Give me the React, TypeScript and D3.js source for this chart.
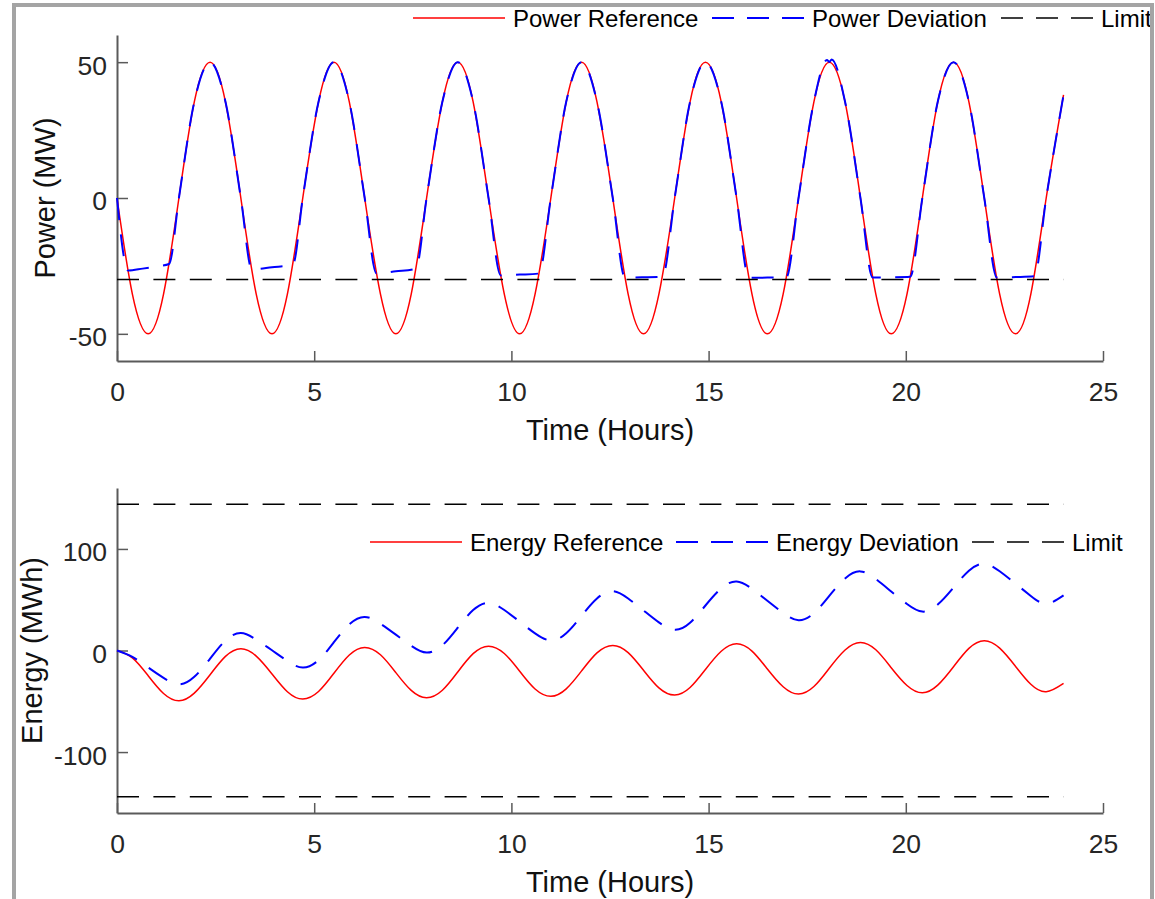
import React, { useEffect, useRef } from "react";
import * as d3 from "d3";

// sample times (hours), one every eighth of a cycle
const hours = [0, 0.39, 0.79, 1.18, 1.57, 1.96, 2.36, 2.75, 3.14, 3.53, 3.93, 4.32, 4.71, 5.11, 5.5, 5.89,
  6.28, 6.68, 7.07, 7.46, 7.85, 8.25, 8.64, 9.03, 9.42, 9.82, 10.21, 10.6, 11.0, 11.39, 11.78, 12.17,
  12.57, 12.96, 13.35, 13.74, 14.14, 14.53, 14.92, 15.32, 15.71, 16.1, 16.49, 16.89, 17.28, 17.67, 18.06, 18.46,
  18.85, 19.24, 19.63, 20.03, 20.42, 20.81, 21.21, 21.6, 21.99, 22.38, 22.78, 23.17, 23.56, 24.0];

const powerReference = [0, -35.4, -50, -35.4, 0, 35.4, 50, 35.4, 0, -35.4, -50, -35.4, 0, 35.4, 50, 35.4,
  0, -35.4, -50, -35.4, 0, 35.4, 50, 35.4, 0, -35.4, -50, -35.4, 0, 35.4, 50, 35.4,
  0, -35.4, -50, -35.4, 0, 35.4, 50, 35.4, 0, -35.4, -50, -35.4, 0, 35.4, 50, 35.4,
  0, -35.4, -50, -35.4, 0, 35.4, 50, 35.4, 0, -35.4, -50, -35.4, 0, 38];

const deviationHours = [0, 0.28, 0.65, 1.0, 1.32, 1.57, 1.96, 2.36, 2.75, 3.14, 3.42, 3.93, 4.46, 4.71, 5.11, 5.5,
  5.89, 6.28, 6.58, 7.07, 7.58, 7.85, 8.25, 8.64, 9.03, 9.42, 9.73, 10.21, 10.7, 11.0, 11.39, 11.78,
  12.17, 12.57, 12.88, 13.35, 13.83, 14.14, 14.53, 14.92, 15.32, 15.71, 16.02, 16.49, 16.97, 17.28, 17.67, 18.0,
  18.06, 18.12, 18.46, 18.85, 19.16, 19.63, 20.11, 20.42, 20.81, 21.21, 21.6, 21.99, 22.31, 22.78, 23.26, 23.56, 24.0];

const powerDeviation = [0, -26.7, -26.0, -25.2, -24.3, 0, 35.4, 50, 35.4, 0, -26.3, -25.5, -24.5, 0, 35.4, 50,
  35.4, 0, -27.8, -27.0, -26.0, 0, 35.4, 50, 35.4, 0, -28.5, -28.2, -27.8, 0, 35.4, 50,
  35.4, 0, -29.3, -29.2, -29.0, 0, 35.4, 50, 35.4, 0, -29.4, -29.3, -29.2, 0, 35.4, 50.8,
  50.1, 51.0, 35.4, 0, -29.3, -29.2, -29.0, 0, 35.4, 50, 35.4, 0, -29.3, -29.1, -28.8, 0, 38];

const energyReference = [0, -7.2, -24.8, -42.3, -49.5, -42.0, -23.9, -5.8, 1.7,
  -5.5, -23.1, -40.6, -47.8, -40.4, -22.4, -4.4, 3.0,
  -4.2, -21.8, -39.3, -46.5, -39.1, -21.1, -3.1, 4.3,
  -2.9, -20.4, -37.9, -45.1, -37.8, -20.1, -2.3, 5.0,
  -2.1, -19.5, -36.8, -43.9, -36.5, -18.7, -0.8, 6.6,
  -0.6, -18.2, -35.7, -42.9, -35.5, -17.5, 0.5, 7.9,
  0.7, -16.9, -34.4, -41.6, -34.1, -16.0, 2.1, 9.6,
  2.3, -15.5, -33.3, -40.6, -32.3];

const energyDeviation = [0, -6.3, -16.7, -27.0, -33.3, -25.9, -8.1, 9.8, 17.2,
  10.7, 0.2, -10.3, -16.8, -9.5, 8.2, 25.8, 33.1,
  26.4, 15.6, 4.7, -2.0, 5.1, 22.5, 39.8, 46.9,
  39.9, 28.4, 16.9, 9.9, 17.0, 34.2, 51.3, 58.4,
  51.2, 39.5, 27.7, 20.5, 27.4, 44.3, 61.1, 68.0,
  60.7, 48.9, 37.0, 29.7, 36.7, 53.8, 70.9, 77.9,
  70.4, 58.1, 45.8, 38.3, 45.2, 61.9, 78.6, 85.5,
  78.0, 65.9, 53.7, 46.2, 54.2];

const powerLimits = [-30];
const energyLimits = [144, -144];
const limitHours = [0, 24];

const xTicks = [0, 5, 10, 15, 20, 25];
const powerTicks = [-50, 0, 50];
const energyTicks = [-100, 0, 100];

const powerLegend = ["Power Reference", "Power Deviation", "Limit"];
const energyLegend = ["Energy Reference", "Energy Deviation", "Limit"];

const W = 1155;
const H = 899;
const FONT = "'Liberation Sans', Arial, Helvetica, sans-serif";
const DASH = "22 14.4";

export default function App() {
  const ref = useRef<SVGSVGElement>(null);

  useEffect(() => {
    const svg = d3.select(ref.current).html("");
    svg.append("rect").attr("width", W).attr("height", H).attr("fill", "#fff");

    const x = d3.scaleLinear().domain([0, 25]).range([117, 1103]);

    const styles = [
      { color: "#ff0000", dash: null, width: 1.5 },
      { color: "#0000ff", dash: DASH, width: 2 },
      { color: "#000000", dash: DASH, width: 1.5 },
    ];

    // plain hyphen for negatives, like the original
    const fmt = (d: any) => String(d);

    function panel(cfg: any) {
      const y = d3.scaleLinear().domain(cfg.domain).range(cfg.range);
      const g = svg.append("g");
      const top = cfg.range[1], bottom = cfg.range[0];

      // axes, ticks pointing inward
      const ax = g.append("g")
        .attr("transform", `translate(0,${bottom})`)
        .call(d3.axisBottom(x).tickValues(xTicks).tickFormat(fmt).tickSize(-10).tickSizeOuter(0).tickPadding(21));
      const ay = g.append("g")
        .attr("transform", `translate(117,0)`)
        .call(d3.axisLeft(y).tickValues(cfg.ticks).tickFormat(fmt).tickSize(-11).tickSizeOuter(0).tickPadding(10));
      [ax, ay].forEach(a => {
        a.select(".domain").attr("stroke", "#5a5a5a").attr("stroke-width", 2);
        a.selectAll(".tick line").attr("stroke", "#5a5a5a").attr("stroke-width", 1.5);
        a.selectAll("text").attr("font-family", FONT).attr("font-size", 26.5).attr("fill", "#262626");
      });
      ay.selectAll("text").attr("dy", "0.45em");

      g.append("text")
        .attr("x", 610).attr("y", bottom + 79)
        .attr("text-anchor", "middle")
        .attr("font-family", FONT).attr("font-size", 29).attr("fill", "#111")
        .text("Time (Hours)");
      g.append("text")
        .attr("transform", `translate(${cfg.labelX},${(top + bottom) / 2}) rotate(-90)`)
        .attr("text-anchor", "middle")
        .attr("font-family", FONT).attr("font-size", 29).attr("fill", "#111")
        .text(cfg.label);

      cfg.series.forEach((s: any, i: number) => {
        const line = d3.line<number>()
          .x((_, j) => x(s.t[j]))
          .y(d => y(d))
          .curve(s.curve);
        g.append("path")
          .datum(s.v)
          .attr("d", line)
          .attr("fill", "none")
          .attr("stroke", styles[i].color)
          .attr("stroke-width", styles[i].width)
          .attr("stroke-dasharray", styles[i].dash);
      });

      cfg.limits.forEach((lv: number) => {
        g.append("line")
          .attr("x1", x(limitHours[0])).attr("x2", x(limitHours[1]))
          .attr("y1", y(lv)).attr("y2", y(lv))
          .attr("stroke", styles[2].color)
          .attr("stroke-width", styles[2].width)
          .attr("stroke-dasharray", styles[2].dash);
      });

      // legend, no box
      cfg.legendX.forEach((lx: number, i: number) => {
        g.append("line")
          .attr("x1", lx).attr("x2", lx + 92)
          .attr("y1", cfg.legendY).attr("y2", cfg.legendY)
          .attr("stroke", styles[i].color)
          .attr("stroke-width", styles[i].width)
          .attr("stroke-dasharray", i === 0 ? null : "22 13");
        g.append("text")
          .attr("x", lx + 100).attr("y", cfg.legendY + 8.5)
          .attr("font-family", FONT).attr("font-size", 24).attr("fill", "#000")
          .text(cfg.legend[i]);
      });
    }

    panel({
      domain: [-60, 60], range: [361, 35], ticks: powerTicks,
      label: "Power (MW)", labelX: 55,
      series: [
        { t: hours, v: powerReference, curve: d3.curveNatural },
        { t: deviationHours, v: powerDeviation, curve: d3.curveMonotoneX },
      ],
      limits: powerLimits,
      legend: powerLegend, legendX: [413, 712, 1001], legendY: 18,
    });

    panel({
      domain: [-160, 160], range: [813, 488], ticks: energyTicks,
      label: "Energy (MWh)", labelX: 42,
      series: [
        { t: hours, v: energyReference, curve: d3.curveNatural },
        { t: hours, v: energyDeviation, curve: d3.curveNatural },
      ],
      limits: energyLimits,
      legend: energyLegend, legendX: [370, 676, 972], legendY: 542,
    });

    // outer grey frame
    svg.append("rect")
      .attr("x", 14).attr("y", 5).attr("width", 1138).attr("height", 1000)
      .attr("fill", "none").attr("stroke", "#a4a4a4").attr("stroke-width", 4);
    svg.append("rect")
      .attr("x", 1154).attr("y", 0).attr("width", 2).attr("height", H).attr("fill", "#fff");
  }, []);

  return (
    <div style={{ position: "absolute", left: 0, top: 0 }}>
      <svg ref={ref} width={W} height={H} style={{ display: "block" }}></svg>
    </div>
  );
}
